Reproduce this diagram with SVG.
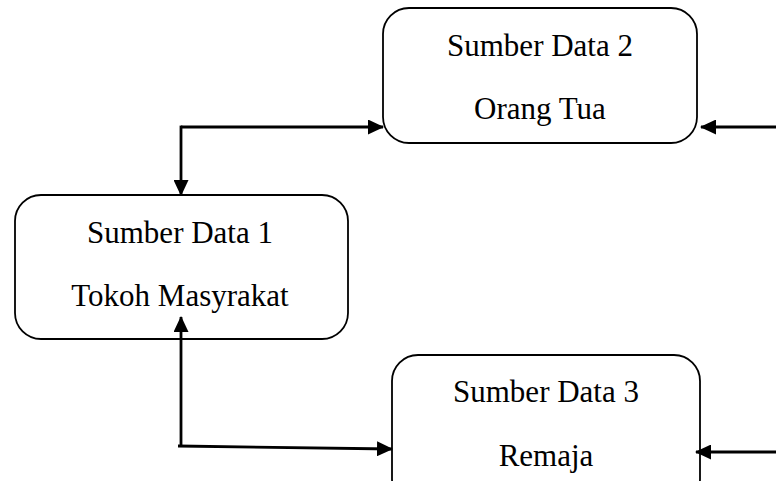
<svg xmlns="http://www.w3.org/2000/svg" width="776" height="481" viewBox="0 0 776 481">
<style>
.box{fill:#fff;stroke:#000;stroke-width:1.8}
.t{font-family:"Liberation Serif","Times New Roman",serif;font-size:31px;fill:#000;text-anchor:middle}
.c{fill:none;stroke:#000;stroke-width:2.8}
</style>
<defs>
<marker id="ah" markerWidth="16" markerHeight="15" refX="15" refY="7.5" orient="auto" markerUnits="userSpaceOnUse">
<path d="M0,0 L16,7.5 L0,15 Z" fill="#000"/>
</marker>
</defs>
<g id="node-sumber2">
<rect class="box" x="383" y="8" width="314" height="135" rx="26"/>
<text class="t" x="540" y="56">Sumber Data 2</text>
<text class="t" x="540" y="119">Orang Tua</text>
</g>
<g id="node-sumber1">
<rect class="box" x="15" y="195" width="333" height="144" rx="26"/>
<text class="t" x="180" y="243">Sumber Data 1</text>
<text class="t" x="180" y="306">Tokoh Masyrakat</text>
</g>
<g id="node-sumber3">
<rect class="box" x="392" y="355" width="308" height="150" rx="26"/>
<text class="t" x="546" y="402">Sumber Data 3</text>
<text class="t" x="546" y="466">Remaja</text>
</g>
<g id="connectors">
<path class="c" d="M181,127 L383,127" marker-end="url(#ah)"/>
<path class="c" d="M181,125.6 L181,195" marker-end="url(#ah)"/>
<path class="c" d="M181,446 L181,317" marker-end="url(#ah)"/>
<path class="c" d="M178,446 L392,449" marker-end="url(#ah)"/>
<path class="c" d="M776,127 L701,127" marker-end="url(#ah)"/>
<path class="c" d="M776,452 L696,452" marker-end="url(#ah)"/>
</g>
</svg>
